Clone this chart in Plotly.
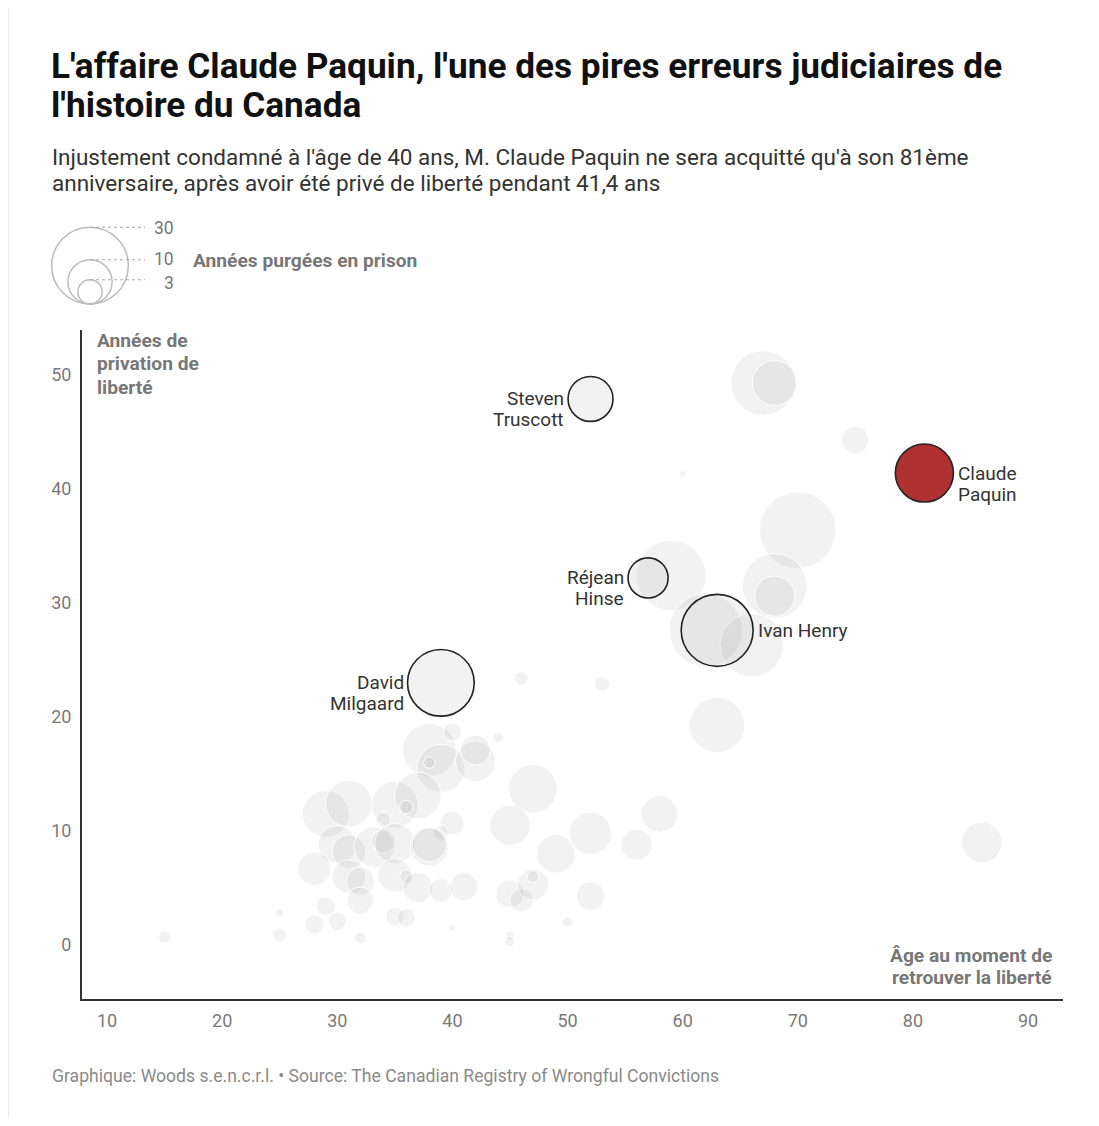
import math
import plotly.graph_objects as go

# ---------------- data ----------------
# Other wrongful convictions (grey bubbles)
ages = [46, 53, 38, 40, 39, 38, 42, 42, 44, 47, 29, 31, 35, 37, 36, 34, 40, 39, 45,
        30, 31, 33.2, 34, 35, 38, 38, 28, 31, 32, 35, 36, 37, 39, 41, 32, 29, 28, 30,
        25, 25, 32, 35, 36, 40, 45, 46, 47, 47, 45, 45, 49, 52, 58, 56, 52, 50, 15,
        67, 68, 75, 60, 70, 59, 68, 68, 62, 66, 63, 86]
years_deprived = [23.4, 22.9, 17.1, 18.7, 15.5, 16.0, 16.1, 17.1, 18.2, 13.7, 11.5, 12.4,
                  12.3, 13.1, 12.1, 11.0, 10.7, 9.85, 10.5, 8.8, 8.2, 8.6, 9.1, 8.9, 8.6,
                  8.8, 6.7, 6.0, 5.6, 6.1, 6.0, 5.05, 4.8, 5.1, 3.9, 3.4, 1.8, 2.1, 2.8,
                  0.9, 0.6, 2.5, 2.4, 1.55, 4.5, 3.9, 5.3, 6.0, 0.8, 0.3, 8.0, 9.8, 11.5,
                  8.8, 4.3, 2.0, 0.7,
                  49.3, 49.3, 44.3, 41.3, 36.4, 32.4, 31.5, 30.6, 27.6, 26.3, 19.3, 9.0]
years_prison = [0.9, 1.1, 14.5, 1.65, 11.8, 0.66, 8.2, 4.6, 0.5, 12.0, 11.1, 11.1, 11.1,
                11.1, 0.9, 1.1, 2.8, 1.1, 8.2, 7.4, 5.7, 8.2, 2.8, 8.2, 7.4, 6.0, 5.7,
                5.7, 4.0, 5.7, 0.9, 4.6, 2.8, 4.0, 3.6, 1.8, 1.8, 1.65, 0.33, 0.9, 0.66,
                1.65, 1.65, 0.22, 4.0, 2.8, 5.0, 0.73, 0.33, 0.5, 7.6, 9.0, 6.8, 5.0,
                4.2, 0.5, 0.73,
                21.3, 10.2, 3.8, 0.28, 30.0, 25.0, 21.3, 8.2, 27.4, 20.5, 15.6, 8.4]

# Highlighted cases
hl_names = ["Steven<br>Truscott", "Réjean<br>Hinse", "Ivan Henry", "David<br>Milgaard"]
hl_ages = [52, 57, 63, 39]
hl_deprived = [47.9, 32.2, 27.6, 23.0]
hl_prison = [10.3, 8.2, 26.4, 22.7]
hl_side = ["left", "left", "right", "left"]

paquin_name = "Claude<br>Paquin"
paquin_age = [81]
paquin_deprived = [41.4]
paquin_prison = [17.2]

legend_values = [30, 10, 3]
x_ticks = [10, 20, 30, 40, 50, 60, 70, 80, 90]
y_ticks = [0, 10, 20, 30, 40, 50]

title = "L'affaire Claude Paquin, l'une des pires erreurs judiciaires de<br>l'histoire du Canada"
subtitle = ("Injustement condamné à l'âge de 40 ans, M. Claude Paquin ne sera acquitté qu'à son 81ème<br>"
            "anniversaire, après avoir été privé de liberté pendant 41,4 ans")
y_title = "Années de<br>privation de<br>liberté"
x_title = "Âge au moment de<br>retrouver la liberté"
legend_title = "Années purgées en prison"
footer = "Graphique: Woods s.e.n.c.r.l. • Source: The Canadian Registry of Wrongful Convictions"

# ---------------- layout geometry (screen pixels of the page) ----------------
OFF = 8                      # page body margin
W, H = 1099 - 2 * OFF, 1126 - 2 * OFF
L, R, T, B = 82, 1063, 330, 999   # plot area in screen px
K = 7.0  # bubble radius (px) per sqrt(year)


def radius(v):
    return K * math.sqrt(v)


def diam(vals):
    return [2 * radius(v) for v in vals]


def pxx(x):
    return (x - L) / (R - L)


def pxy(y):
    return (B - y) / (B - T)


FONT = "Roboto, 'Open Sans', sans-serif"
bubble_fill = "rgba(100,100,100,0.085)"

fig = go.Figure()

fig.add_trace(go.Scatter(
    x=ages, y=years_deprived, mode="markers",
    marker=dict(size=diam(years_prison), sizemode="diameter", color=bubble_fill, opacity=1,
                line=dict(color="white", width=1)),
    hoverinfo="skip", showlegend=False))

fig.add_trace(go.Scatter(
    x=hl_ages, y=hl_deprived, mode="markers",
    marker=dict(size=diam(hl_prison), sizemode="diameter", color=bubble_fill, opacity=1,
                line=dict(color="#222222", width=1.6)),
    hoverinfo="skip", showlegend=False))

fig.add_trace(go.Scatter(
    x=paquin_age, y=paquin_deprived, mode="markers",
    marker=dict(size=diam(paquin_prison), sizemode="diameter", color="#b03132", opacity=1,
                line=dict(color="#222222", width=1.6)),
    hoverinfo="skip", showlegend=False))

annotations = []


def lines_paper(text, x, y_first, spacing, size, color, xanchor="left", bold=False):
    """Multi-line text in paper coords, with explicit line spacing (screen px)."""
    for i, line in enumerate(text.split("<br>")):
        annotations.append(dict(
            x=pxx(x), y=pxy(y_first + i * spacing), xref="paper", yref="paper",
            text=("<b>" + line + "</b>") if bold else line, showarrow=False,
            xanchor=xanchor, yanchor="middle", align=xanchor,
            font=dict(family=FONT, size=size, color=color)))


# bubble labels
for name, xa, ya, v, side in zip(hl_names + [paquin_name], hl_ages + paquin_age,
                                 hl_deprived + paquin_deprived, hl_prison + paquin_prison,
                                 hl_side + ["right"]):
    off = radius(v) + (2 if side == "left" else 3)
    for i, line in enumerate(name.split("<br>")):
        annotations.append(dict(
            x=xa, y=ya, xref="x", yref="y", text=line, showarrow=False,
            xanchor="right" if side == "left" else "left",
            align="right" if side == "left" else "left",
            yanchor="middle", xshift=-off if side == "left" else off,
            yshift=-21 * i,
            font=dict(family=FONT, size=19, color="#333333")))

# titles
lines_paper(title, 49, 66, 39, 35.2, "#111111", bold=True)
lines_paper(subtitle, 50, 157, 25.5, 22.5, "#333333")
lines_paper(y_title, 95, 340, 23.5, 19.2, "#777777", bold=True)
lines_paper(x_title, 1054, 955, 22, 19.2, "#777777", xanchor="right", bold=True)
lines_paper(footer, 50, 1076, 0, 17.6, "#8a8a8a")

# size legend
shapes = []
lcx, lbottom = 90, 304
label_nudge = {30: 1.0, 10: -0.5, 3: 3.5}
for v in legend_values:
    r = radius(v)
    cy = lbottom - r
    shapes.append(dict(type="circle", xref="paper", yref="paper",
                       xsizemode="pixel", ysizemode="pixel",
                       xanchor=pxx(lcx), yanchor=pxy(cy),
                       x0=-r, x1=r, y0=-r, y1=r,
                       line=dict(color="#bbbbbb", width=1.5), fillcolor="rgba(0,0,0,0)"))
    ytop = lbottom - 2 * r
    shapes.append(dict(type="line", xref="paper", yref="paper",
                       x0=pxx(lcx), x1=pxx(145), y0=pxy(ytop), y1=pxy(ytop),
                       line=dict(color="#aaaaaa", width=1, dash="dot")))
    annotations.append(dict(x=pxx(175), y=pxy(ytop + label_nudge[v]), xref="paper", yref="paper",
                            text=str(v), showarrow=False, xanchor="right", yanchor="middle",
                            borderpad=0,
                            font=dict(family=FONT, size=17.5, color="#777777")))
lines_paper(legend_title, 191, 261, 0, 19.2, "#777777", bold=True)

# faint page border on the left
shapes.append(dict(type="line", xref="paper", yref="paper", x0=pxx(8.5), x1=pxx(8.5),
                   y0=pxy(0), y1=pxy(1126), line=dict(color="#ececec", width=1)))

x0 = 10 - (107 - L) / 11.5125
x1 = 10 + (R - 107) / 11.5125
y0 = -(B - 945) / 11.4
y1 = (945 - T) / 11.4

fig.update_layout(
    width=W, height=H,
    margin=dict(l=L - OFF, r=W - (R - OFF), t=T - OFF, b=H - (B - OFF), pad=0),
    paper_bgcolor="white", plot_bgcolor="white",
    showlegend=False,
    annotations=annotations, shapes=shapes,
    xaxis=dict(range=[x0, x1], tickvals=x_ticks, showgrid=False, zeroline=False,
               showline=True, linecolor="#333333", linewidth=2, ticks="",
               ticklabelstandoff=4,
               tickfont=dict(family=FONT, size=18, color="#7a7a7a")),
    yaxis=dict(range=[y0, y1], tickvals=y_ticks, showgrid=False, zeroline=False,
               showline=True, linecolor="#333333", linewidth=2, ticks="",
               ticklabelstandoff=5,
               tickfont=dict(family=FONT, size=18, color="#7a7a7a")),
)

fig.write_html("out.html")
